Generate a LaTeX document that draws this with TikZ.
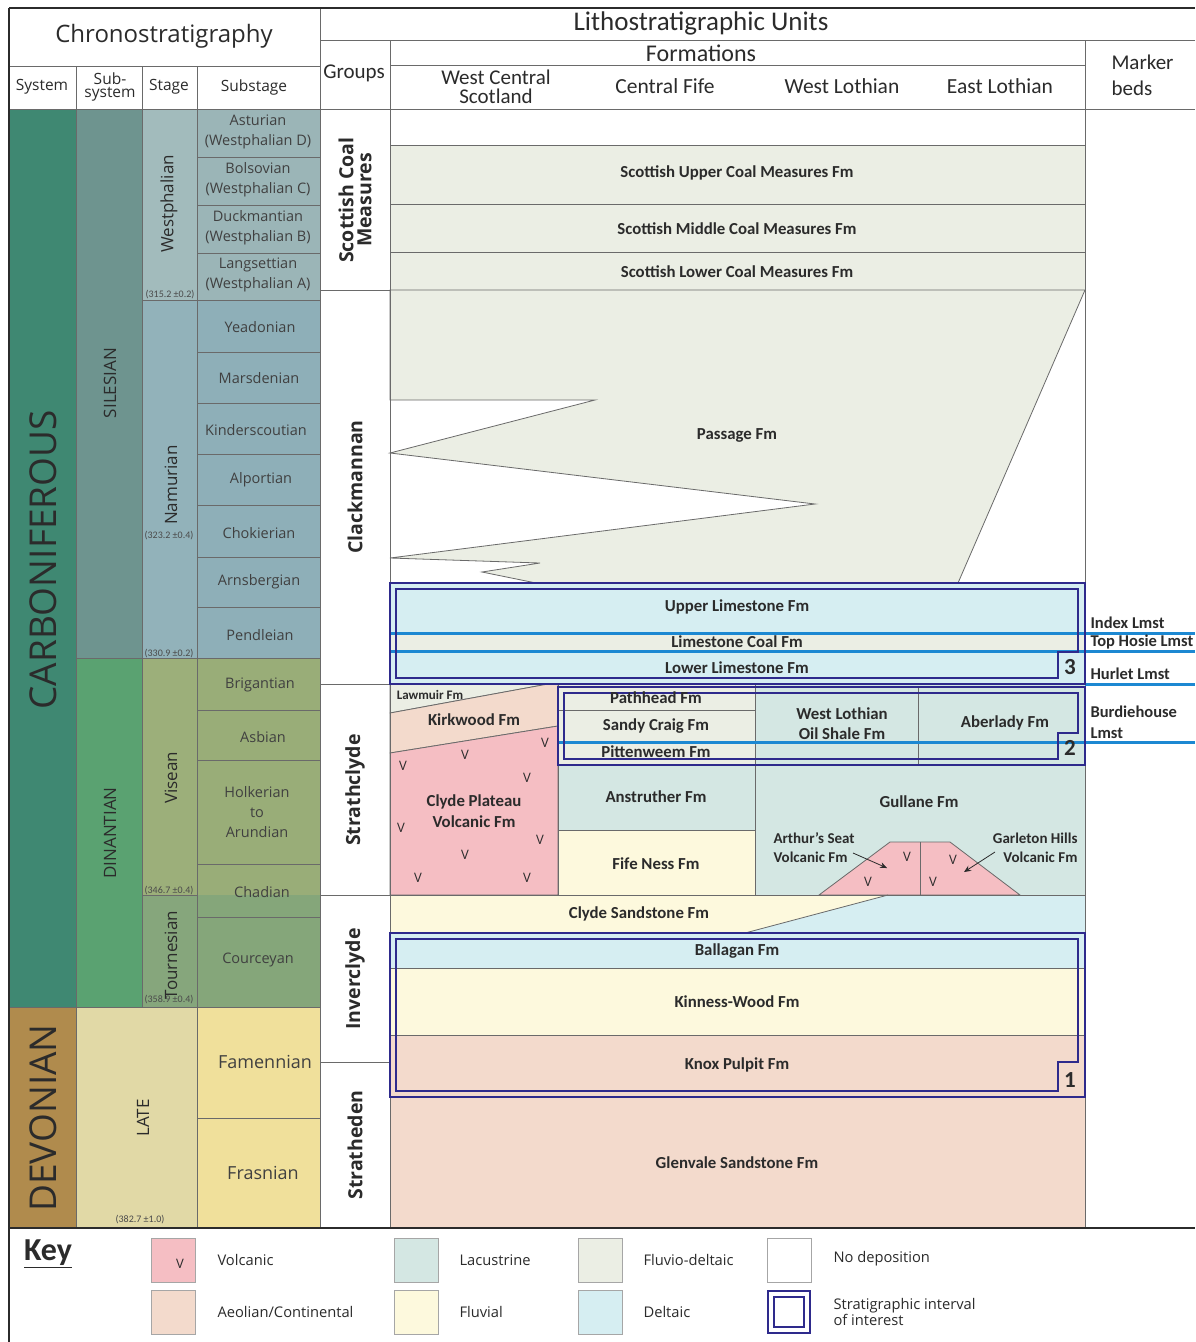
\documentclass[tikz,border=0pt]{standalone}
\usepackage{fontspec}
\setmainfont{Carlito}
\newfontfamily\osf{Open Sans}
\usetikzlibrary{arrows.meta}
\definecolor{carb}{HTML}{3F8872}
\definecolor{devo}{HTML}{B08B4D}
\definecolor{sile}{HTML}{6E948F}
\definecolor{dina}{HTML}{5AA271}
\definecolor{late}{HTML}{E1D9A6}
\definecolor{westst}{HTML}{A2BBBC}
\definecolor{westsub}{HTML}{9BB5B7}
\definecolor{namst}{HTML}{92B2BA}
\definecolor{namsub}{HTML}{8EAFB8}
\definecolor{visst}{HTML}{9CAF7A}
\definecolor{vissub}{HTML}{99AD78}
\definecolor{tourst}{HTML}{86A67C}
\definecolor{toursub}{HTML}{85A67A}
\definecolor{fam}{HTML}{F0E09B}
\definecolor{volc}{HTML}{F5BEC3}
\definecolor{aeol}{HTML}{F3DACC}
\definecolor{lacu}{HTML}{D4E7E3}
\definecolor{fluv}{HTML}{FDF9DD}
\definecolor{fdel}{HTML}{EBEEE4}
\definecolor{delt}{HTML}{D6EEF2}
\definecolor{navy}{HTML}{2E2A8C}
\definecolor{mblue}{HTML}{1C88D2}
\definecolor{gridc}{HTML}{6A6A6A}
\definecolor{txt}{HTML}{2B2B2B}
\begin{document}
\begin{tikzpicture}[x=1pt,y=-1pt,
  gl/.style={draw=gridc,line width=0.8pt},
  frame/.style={draw=txt,line width=1.6pt},
  boxl/.style={draw=navy,line width=2.8pt},
  mline/.style={draw=mblue,line width=3pt},
  hdc/.style={font=\osf\fontsize{15.5}{16}\selectfont,text=txt,align=center},
  hdl/.style={font=\fontsize{21.5}{19}\selectfont,text=txt,align=center},
  sub/.style={font=\osf\fontsize{14.5}{20}\selectfont,text=txt!90,align=center},
  stg/.style={font=\osf\fontsize{17}{17}\selectfont,text=txt,rotate=90},
  sys/.style={font=\osf\fontsize{37}{37}\selectfont,text=txt,rotate=90},
  grp/.style={font=\osf\bfseries\fontsize{19.5}{18}\selectfont,text=txt,rotate=90,align=center},
  age/.style={font=\fontsize{10}{10}\selectfont,text=txt!85},
  fm/.style={font=\bfseries\fontsize{16.8}{20}\selectfont,text=txt,align=center},
  fms/.style={font=\bfseries\fontsize{15}{19}\selectfont,text=txt},
  mk/.style={font=\bfseries\fontsize{16.5}{21}\selectfont,text=txt,anchor=west,align=left},
  num/.style={font=\bfseries\fontsize{23}{23}\selectfont,text=txt},
  vm/.style={font=\osf\fontsize{13}{13}\selectfont,text=txt},
  sw/.style={draw=gray!70,line width=0.8pt},
  kl/.style={font=\osf\fontsize{14.7}{15}\selectfont,text=txt,anchor=west,align=left}]
\useasboundingbox (0,0) rectangle (1195,1342);
\fill[white] (0,0) rectangle (1195,1342);

% ---------- chronostratigraphy fills
\fill[carb] (9,109) rectangle (76,1007);
\fill[devo] (9,1007) rectangle (76,1228);
\fill[sile] (76,109) rectangle (142,658);
\fill[dina] (76,658) rectangle (142,1007);
\fill[late] (76,1007) rectangle (197,1228);
\fill[westst] (142,109) rectangle (197,300);
\fill[namst] (142,300) rectangle (197,658);
\fill[visst] (142,658) rectangle (197,895);
\fill[tourst] (142,895) rectangle (197,1007);
\fill[westsub] (197,109) rectangle (320,300);
\fill[namsub] (197,300) rectangle (320,658);
\fill[vissub] (197,658) rectangle (320,895);
\fill[toursub] (197,895) rectangle (320,1007);
\fill[fam] (197,1007) rectangle (320,1228);

% ---------- formation fills
\fill[fdel] (390,145) rectangle (1085,290);
\filldraw[fill=fdel,gl] (390,290) -- (1085,290) -- (958,583) -- (536,583) -- (482,572) -- (540,563) -- (390,558) -- (815,504) -- (390,453) -- (595,400) -- (390,400) -- cycle;
\fill[delt] (390,583) rectangle (1085,633);
\fill[fdel] (390,633) rectangle (1085,651);
\fill[delt] (390,651) rectangle (1085,684);
% Strathclyde, West Central Scotland
\filldraw[fill=fdel,gl] (390,684) -- (548,684) -- (390,713) -- cycle;
\filldraw[fill=aeol,gl] (390,713) -- (548,684) -- (558,684) -- (558,726) -- (390,753) -- cycle;
\filldraw[fill=volc,gl] (390,753) -- (558,726) -- (558,895) -- (390,895) -- cycle;
% Central Fife etc.
\fill[fdel] (558,684) rectangle (755,765);
\fill[lacu] (755,684) rectangle (1085,765);
\fill[lacu] (558,765) rectangle (755,830);
\fill[fluv] (558,830) rectangle (755,895);
\fill[lacu] (755,765) rectangle (1085,895);
\filldraw[fill=volc,gl] (819,895) -- (890,842) -- (950,842) -- (1020,895) -- cycle;
\draw[gl] (920,842) -- (920,895);
% Inverclyde / Stratheden
\fill[fluv] (390,895) -- (888,895) -- (745,933) -- (390,933) -- cycle;
\fill[delt] (888,895) -- (1085,895) -- (1085,933) -- (745,933) -- cycle;
\draw[gl] (888,895) -- (745,933);
\fill[delt] (390,933) rectangle (1085,968);
\fill[fluv] (390,968) rectangle (1085,1035);
\fill[aeol] (390,1035) rectangle (1085,1228);

% ---------- grid lines (chronostratigraphy)
\foreach \yy in {157,205,253,300,352,403,454,505,557,607,658,710,760,864,917,1007,1118}
  \draw[gl] (197,\yy) -- (320,\yy);
\foreach \yy in {300,658,895,1007}
  \draw[gl] (142,\yy) -- (197,\yy);
\foreach \yy in {658,1007}
  \draw[gl] (76,\yy) -- (142,\yy);
\draw[gl] (9,1007) -- (76,1007);
\draw[gl] (76,66) -- (76,1228);
\draw[gl] (142,66) -- (142,1007);
\draw[gl] (197,66) -- (197,1228);
\draw[gl] (9,66) -- (320,66);
% ---------- grid lines (lithostratigraphy)
\draw[gl] (320,8) -- (320,1228);
\draw[gl] (320,40) -- (1195,40);
\draw[gl] (390,65) -- (1085,65);
\draw[gl] (390,40) -- (390,1228);
\draw[gl] (1085,40) -- (1085,1228);
\draw[gl] (9,109) -- (1195,109);
\foreach \yy in {290,684,895,1062}
  \draw[gl] (320,\yy) -- (390,\yy);
\foreach \yy in {145,204,252}
  \draw[gl] (390,\yy) -- (1085,\yy);
\draw[gl] (558,684) -- (558,895);
\draw[gl] (755,684) -- (755,895);
\draw[gl] (918,686) -- (918,765);
\draw[gl] (558,710) -- (755,710);
\draw[gl] (558,765) -- (1085,765);
\draw[gl] (558,830) -- (755,830);
\draw[gl] (390,895) -- (1085,895);
\draw[gl] (390,968) -- (1085,968);
\draw[gl] (390,1035) -- (1085,1035);
\draw[gl] (390,1097) -- (1085,1097);

% ---------- marker bed lines
\draw[mline] (390,633) -- (1195,633);
\draw[mline] (390,651) -- (1195,651);
\draw[mline] (1085,684) -- (1195,684);
\draw[mline] (558,742) -- (1195,742);

% ---------- intervals of interest
\draw[boxl] (390,583) rectangle (1085,684);
\draw[boxl] (396,589) -- (1078,589) -- (1078,652) -- (1058,652) -- (1058,678) -- (396,678) -- cycle;
\draw[boxl] (558,687) rectangle (1085,765);
\draw[boxl] (564,693) -- (1078,693) -- (1078,733) -- (1058,733) -- (1058,759) -- (564,759) -- cycle;
\draw[boxl] (390,933) rectangle (1085,1097);
\draw[boxl] (396,939) -- (1078,939) -- (1078,1062) -- (1058,1062) -- (1058,1091) -- (396,1091) -- cycle;
\node[num] (n3) at (1070,667) {3};
\node[num] (n2) at (1070,748) {2};
\node[num] (n1) at (1070,1080) {1};

% ---------- frame
\draw[frame] (9,8) -- (1195,8);
\draw[frame] (9,8) -- (9,1342);
\draw[draw=txt,line width=2.4pt] (9,1228) -- (1195,1228);

% ---------- headers
\node[hdc,font=\osf\fontsize{24}{24}\selectfont] (hchrono) at (164,36) {Chronostratigraphy};
\node[hdc] (hsys) at (42,87) {System};
\node[hdc,font=\osf\fontsize{15.5}{13}\selectfont] (hsub) at (110,87) {Sub-\\system};
\node[hdc] (hstage) at (169,87) {Stage};
\node[hdc] (hsubst) at (254,87) {Substage};
\node[hdl,font=\fontsize{27}{27}\selectfont] (hlitho) at (701,23) {Lithostratigraphic Units};
\node[hdl,font=\fontsize{21}{21}\selectfont] (hgroups) at (354,73) {Groups};
\node[hdl,font=\fontsize{24}{24}\selectfont] (hform) at (701,53) {Formations};
\node[hdl,font=\fontsize{21}{18.5}\selectfont] (hwcs) at (496,87) {West Central\\Scotland};
\node[hdl] (hcf) at (665,86) {Central Fife};
\node[hdl] (hwl) at (842,86) {West Lothian};
\node[hdl] (hel) at (1000,86) {East Lothian};
\node[hdl,anchor=west,align=left,font=\fontsize{21}{26}\selectfont] (hmb) at (1108,75) {Marker\\beds};

% ---------- chrono labels
\node[sys] (carbon) at (43,560) {CARBONIFEROUS};
\node[sys] (devon) at (43,1118) {DEVONIAN};
\node[stg] (silesian) at (110,383) {SILESIAN};
\node[stg] (dinantian) at (110,833) {DINANTIAN};
\node[stg] (late) at (143,1118) {LATE};
\node[stg] (westph) at (169,204) {Westphalian};
\node[stg] (namur) at (171,485) {Namurian};
\node[stg] (visean) at (171,778) {Visean};
\node[stg] (tourn) at (171,955) {Tournesian};
\node[age] (a1) at (170,295) {(315.2 ±0.2)};
\node[age] (a2) at (169,536) {(323.2 ±0.4)};
\node[age] (a3) at (169,654) {(330.9 ±0.2)};
\node[age] (a4) at (169,891) {(346.7 ±0.4)};
\node[age] (a5) at (169,1000) {(358.9 ±0.4)};
\node[age] (a6) at (140,1220) {(382.7 ±1.0)};
\node[sub] (s1) at (258,132) {Asturian\\(Westphalian D)};
\node[sub] (s2) at (258,180) {Bolsovian\\(Westphalian C)};
\node[sub] (s3) at (258,228) {Duckmantian\\(Westphalian B)};
\node[sub] (s4) at (258,275) {Langsettian\\(Westphalian A)};
\node[sub] (s5) at (260,327) {Yeadonian};
\node[sub] (s6) at (259,378) {Marsdenian};
\node[sub] (s7) at (256,430) {Kinderscoutian};
\node[sub] (s8) at (261,480) {Alportian};
\node[sub] (s9) at (259,533) {Chokierian};
\node[sub] (s10) at (259,582) {Arnsbergian};
\node[sub] (s11) at (260,635) {Pendleian};
\node[sub] (s12) at (260,685) {Brigantian};
\node[sub] (s13) at (263,737) {Asbian};
\node[sub] (s14) at (257,812) {Holkerian\\to\\Arundian};
\node[sub] (s15) at (262,892) {Chadian};
\node[sub] (s16) at (258,960) {Courceyan};
\node[sub,font=\osf\fontsize{18}{18}\selectfont] (s17) at (265,1062) {Famennian};
\node[sub,font=\osf\fontsize{18}{18}\selectfont] (s18) at (263,1173) {Frasnian};

% ---------- group labels
\node[grp] (g1) at (355,200) {Scottish Coal\\Measures};
\node[grp] (g2) at (355,487) {Clackmannan};
\node[grp] (g3) at (355,790) {Strathclyde};
\node[grp] (g4) at (355,979) {Inverclyde};
\node[grp] (g5) at (355,1145) {Stratheden};

% ---------- formation labels
\node[fm] (f1) at (737,173) {Scottish Upper Coal Measures Fm};
\node[fm] (f2) at (737,229) {Scottish Middle Coal Measures Fm};
\node[fm] (f3) at (737,272) {Scottish Lower Coal Measures Fm};
\node[fm] (f4) at (737,435) {Passage Fm};
\node[fm] (f5) at (737,607) {Upper Limestone Fm};
\node[fm] (f6) at (737,642) {Limestone Coal Fm};
\node[fm] (f7) at (737,668) {Lower Limestone Fm};
\node[fms,font=\bfseries\fontsize{13}{13}\selectfont] (f8) at (430,695) {Lawmuir Fm};
\node[fm] (f9) at (474,720) {Kirkwood Fm};
\node[fm,font=\bfseries\fontsize{16.8}{21}\selectfont] (f10) at (474,811) {Clyde Plateau\\Volcanic Fm};
\node[fm] (f11) at (656,698) {Pathhead Fm};
\node[fm] (f12) at (656,726) {Sandy Craig Fm};
\node[fm] (f13) at (656,752) {Pittenweem Fm};
\node[fm] (f14) at (842,724) {West Lothian\\Oil Shale Fm};
\node[fm] (f15) at (1005,723) {Aberlady Fm};
\node[fm] (f16) at (656,797) {Anstruther Fm};
\node[fm] (f17) at (656,864) {Fife Ness Fm};
\node[fm] (f18) at (919,802) {Gullane Fm};
\node[fms,anchor=west,align=left] (f19) at (770,848) {Arthur’s Seat\\Volcanic Fm};
\node[fms,anchor=east,align=right] (f20) at (1081,848) {Garleton Hills\\Volcanic Fm};
\node[fm] (f21) at (639,914) {Clyde Sandstone Fm};
\node[fm] (f22) at (737,951) {Ballagan Fm};
\node[fm] (f23) at (737,1002) {Kinness-Wood Fm};
\node[fm] (f24) at (737,1065) {Knox Pulpit Fm};
\node[fm] (f25) at (737,1163) {Glenvale Sandstone Fm};

% volcanic arrows
\coordinate (asA) at (853,853);
\coordinate (asB) at (887,868);
\coordinate (ghA) at (995,852);
\coordinate (ghB) at (964,872);
\draw[gl,draw=txt,-{Stealth[length=7pt,width=6pt]}] (asA) -- (asB);
\draw[gl,draw=txt,-{Stealth[length=7pt,width=6pt]}] (ghA) -- (ghB);

% V marks
\foreach \vx/\vy [count=\i] in {403/766,465/755,545/743,527/778,401/828,540/840,465/855,418/878,527/878,907/857,868/882,953/860,933/882}
  \node[vm] (v\i) at (\vx,\vy) {V};

% ---------- marker bed labels
\node[mk] (m1) at (1087,623) {Index Lmst};
\node[mk] (m2) at (1087,642) {Top Hosie Lmst};
\node[mk] (m3) at (1087,674) {Hurlet Lmst};
\node[mk] (m4) at (1087,722) {Burdiehouse\\Lmst};

% ---------- key
\node[font=\bfseries\fontsize{32}{32}\selectfont,text=txt] (key) at (48,1254) {\underline{Key}};
\filldraw[sw,fill=volc] (151,1238) rectangle (195,1282);
\node[vm] (kv) at (180,1264) {V};
\filldraw[sw,fill=aeol] (151,1290) rectangle (195,1334);
\filldraw[sw,fill=lacu] (394,1238) rectangle (438,1282);
\filldraw[sw,fill=fluv] (394,1290) rectangle (438,1334);
\filldraw[sw,fill=fdel] (578,1238) rectangle (622,1282);
\filldraw[sw,fill=delt] (578,1290) rectangle (622,1334);
\filldraw[sw,fill=white] (767,1238) rectangle (811,1282);
\draw[boxl] (768,1291) rectangle (810,1333);
\draw[boxl] (774,1297) rectangle (804,1327);
\node[kl] (k1) at (214,1260) {Volcanic};
\node[kl] (k2) at (214,1312) {Aeolian/Continental};
\node[kl] (k3) at (456,1260) {Lacustrine};
\node[kl] (k4) at (456,1312) {Fluvial};
\node[kl] (k5) at (640,1260) {Fluvio-deltaic};
\node[kl] (k6) at (640,1312) {Deltaic};
\node[kl] (k7) at (830,1259) {No deposition};
\node[kl,font=\osf\fontsize{14.7}{14}\selectfont] (k8) at (830,1312) {Stratigraphic interval\\of interest};
\end{tikzpicture}
\end{document}
